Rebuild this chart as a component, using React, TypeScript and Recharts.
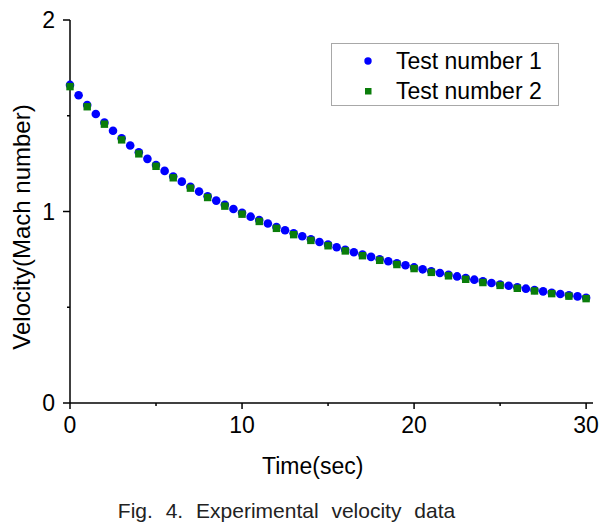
import React from 'react';
import { ScatterChart, Scatter, XAxis, YAxis } from 'recharts';

// readings: test 1 every 0.5 s, test 2 every 1 s
const time1 = [
  0, 0.5, 1, 1.5, 2, 2.5, 3, 3.5, 4, 4.5, 5, 5.5, 6, 6.5, 7, 7.5, 8, 8.5, 9, 9.5,
  10, 10.5, 11, 11.5, 12, 12.5, 13, 13.5, 14, 14.5, 15, 15.5, 16, 16.5, 17, 17.5,
  18, 18.5, 19, 19.5, 20, 20.5, 21, 21.5, 22, 22.5, 23, 23.5, 24, 24.5, 25, 25.5,
  26, 26.5, 27, 27.5, 28, 28.5, 29, 29.5, 30,
];
const velocity1 = [
  1.661, 1.607, 1.556, 1.509, 1.464, 1.422, 1.382, 1.345, 1.309, 1.275, 1.243, 1.212,
  1.183, 1.156, 1.129, 1.104, 1.08, 1.057, 1.035, 1.013, 0.993, 0.973, 0.955, 0.937,
  0.919, 0.902, 0.886, 0.871, 0.855, 0.841, 0.827, 0.813, 0.8, 0.787, 0.775, 0.763,
  0.751, 0.74, 0.729, 0.719, 0.708, 0.698, 0.688, 0.679, 0.67, 0.661, 0.652, 0.644,
  0.635, 0.627, 0.619, 0.612, 0.604, 0.597, 0.59, 0.583, 0.576, 0.569, 0.563, 0.557,
  0.55,
];
const time2 = [
  0, 1, 2, 3, 4, 5, 6, 7, 8, 9, 10, 11, 12, 13, 14, 15, 16, 17, 18, 19, 20, 21, 22,
  23, 24, 25, 26, 27, 28, 29, 30,
];
const velocity2 = [
  1.652, 1.547, 1.456, 1.374, 1.301, 1.236, 1.176, 1.122, 1.073, 1.028, 0.986, 0.948,
  0.912, 0.879, 0.849, 0.821, 0.794, 0.769, 0.745, 0.723, 0.702, 0.682, 0.664, 0.646,
  0.629, 0.614, 0.599, 0.585, 0.571, 0.558, 0.545,
];
const seriesNames = ['Test number 1', 'Test number 2'];
const xTicks = [0, 5, 10, 15, 20, 25, 30];
const yTicks = [0, 0.5, 1, 1.5, 2];

const BLUE = '#0000ff';
const GREEN = '#0a7d0a';
const FONT = '"Liberation Sans", Arial, sans-serif';

const data1 = time1.map((t, i) => ({ t, v: velocity1[i] }));
const data2 = time2.map((t, i) => ({ t, v: velocity2[i] }));

const Dot = (props: any) => <circle cx={props.cx} cy={props.cy} r={4.3} fill={BLUE} />;
const Square = (props: any) => (
  <rect x={props.cx - 3.7} y={props.cy - 3.7} width={7.4} height={7.4} fill={GREEN} />
);

// tick line drawn by hand so 5/15/25 get short unlabeled ticks
const XTick = ({ x, y, payload }: any) => {
  const major = payload.value % 10 === 0;
  const base = y - 14;
  return (
    <g>
      <line x1={x} x2={x} y1={base} y2={base + (major ? 6 : 3)} stroke="#000" strokeWidth={1.5} />
      {major && (
        <text x={x} y={y} dy="0.71em" textAnchor="middle" fontSize={23} fontFamily={FONT} fill="#000">
          {payload.value}
        </text>
      )}
    </g>
  );
};

const YTick = ({ x, y, payload }: any) => {
  const major = payload.value % 1 === 0;
  const base = x + 15;
  return (
    <g>
      <line x1={base} x2={base - (major ? 7 : 3)} y1={y} y2={y} stroke="#000" strokeWidth={1.5} />
      {major && (
        <text x={x} y={y} dy="0.36em" textAnchor="end" fontSize={23} fontFamily={FONT} fill="#000">
          {payload.value}
        </text>
      )}
    </g>
  );
};

const LegendBox = () => (
  <div
    style={{
      position: 'absolute',
      left: 331,
      top: 43,
      width: 226,
      height: 61,
      border: '1px solid #a8a8a8',
      fontFamily: FONT,
      fontSize: 23,
      background: '#fff',
    }}
  >
    {seriesNames.map((name, i) => (
      <div
        key={name}
        style={{ position: 'absolute', left: 0, top: 3 + i * 30, height: 28, display: 'flex', alignItems: 'center' }}
      >
        <svg width={64} height={28}>
          {i === 0 ? (
            <circle cx={36} cy={14} r={3.7} fill={BLUE} />
          ) : (
            <rect x={33} y={11} width={6.5} height={6.5} fill={GREEN} />
          )}
        </svg>
        <span>{name}</span>
      </div>
    ))}
  </div>
);

export default function App() {
  return (
    <div style={{ position: 'absolute', left: 0, top: 0, width: 616, height: 531, background: '#fff' }}>
      <ScatterChart width={616} height={531} margin={{ top: 20, right: 23, left: 10, bottom: 98 }}>
        <XAxis
          type="number"
          dataKey="t"
          domain={[0, 30.4]}
          ticks={xTicks}
          interval={0}
          height={30}
          tickSize={6}
          tickMargin={8}
          tickLine={false}
          tick={<XTick />}
          axisLine={{ stroke: '#000', strokeWidth: 1.5 }}
        />
        <YAxis
          type="number"
          dataKey="v"
          domain={[0, 2]}
          ticks={yTicks}
          interval={0}
          width={60}
          tickSize={7}
          tickMargin={8}
          tickLine={false}
          tick={<YTick />}
          axisLine={{ stroke: '#000', strokeWidth: 1.5 }}
        />
        <Scatter name={seriesNames[0]} data={data1} shape={<Dot />} isAnimationActive={false} />
        <Scatter name={seriesNames[1]} data={data2} shape={<Square />} isAnimationActive={false} />
      </ScatterChart>
      <LegendBox />
      <div
        style={{
          position: 'absolute',
          left: 262,
          top: 453,
          width: 101,
          textAlign: 'center',
          fontFamily: FONT,
          fontSize: 23,
          whiteSpace: 'nowrap',
        }}
      >
        Time(sec)
      </div>
      <div
        style={{
          position: 'absolute',
          left: 22,
          top: 227,
          transform: 'translate(-50%, -50%) rotate(-90deg)',
          fontFamily: FONT,
          fontSize: 24,
          whiteSpace: 'nowrap',
        }}
      >
        Velocity(Mach number)
      </div>
      <div
        style={{
          position: 'absolute',
          left: 0,
          width: 573,
          top: 499,
          textAlign: 'center',
          fontFamily: FONT,
          fontSize: 21,
          wordSpacing: 7,
          color: '#222',
          whiteSpace: 'nowrap',
        }}
      >
        Fig. 4. Experimental velocity data
      </div>
    </div>
  );
}
